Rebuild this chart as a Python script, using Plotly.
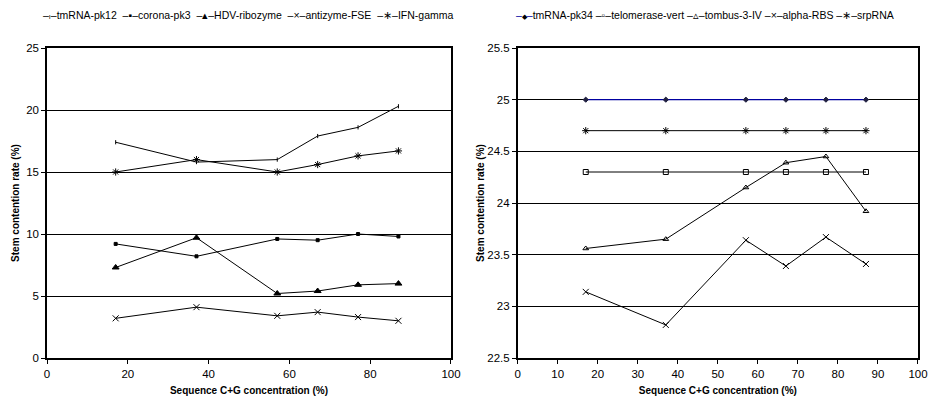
import plotly.graph_objects as go

x_vals = [17, 37, 57, 67, 77, 87]

# Left chart series
left_names = ["tmRNA-pk12", "corona-pk3", "HDV-ribozyme", "antizyme-FSE", "IFN-gamma"]
tmrna_pk12 = [17.4, 15.8, 16.0, 17.9, 18.6, 20.3]
corona_pk3 = [9.2, 8.2, 9.6, 9.5, 10.0, 9.8]
hdv_ribozyme = [7.3, 9.7, 5.2, 5.4, 5.9, 6.0]
antizyme_fse = [3.2, 4.1, 3.4, 3.7, 3.3, 3.0]
ifn_gamma = [15.0, 16.0, 15.0, 15.6, 16.3, 16.7]

# Right chart series
right_names = ["tmRNA-pk34", "telomerase-vert", "tombus-3-IV", "alpha-RBS", "srpRNA"]
tmrna_pk34 = [25.0, 25.0, 25.0, 25.0, 25.0, 25.0]
telomerase_vert = [24.3, 24.3, 24.3, 24.3, 24.3, 24.3]
tombus_3_iv = [23.56, 23.65, 24.15, 24.39, 24.45, 23.92]
alpha_rbs = [23.14, 22.82, 23.64, 23.39, 23.67, 23.41]
srprna = [24.7, 24.7, 24.7, 24.7, 24.7, 24.7]

left_x_ticks = [0, 20, 40, 60, 80, 100]
left_y_ticks = [0, 5, 10, 15, 20, 25]
right_x_ticks = [0, 10, 20, 30, 40, 50, 60, 70, 80, 90, 100]
right_y_ticks = [22.5, 23, 23.5, 24, 24.5, 25, 25.5]
right_y_labels = ["22.5", "23", "23.5", "24", "24.5", "25", "25.5"]

x_title = "Sequence C+G concentration (%)"
y_title = "Stem contention rate (%)"

FONT = "Liberation Sans, Arial, sans-serif"
BLUE = "#0000a0"

fig = go.Figure()

def add(name, y, symbol, size, xa, ya, color="black", mcolor="black", lw=1):
    fig.add_trace(go.Scatter(
        x=x_vals, y=y, name=name, mode="lines+markers", showlegend=False,
        line=dict(color=color, width=lw),
        marker=dict(symbol=symbol, size=size, color=mcolor,
                    line=dict(color=mcolor, width=1)),
        xaxis=xa, yaxis=ya))

add(left_names[0], tmrna_pk12, "line-ns", 3, "x", "y")
add(left_names[1], corona_pk3, "square", 3, "x", "y")
add(left_names[2], hdv_ribozyme, "triangle-up", 6, "x", "y")
add(left_names[3], antizyme_fse, "x-thin-open", 6, "x", "y")
add(left_names[4], ifn_gamma, "asterisk-open", 6, "x", "y")

add(right_names[0], tmrna_pk34, "diamond", 4, "x2", "y2", color=BLUE, mcolor="#202040", lw=1.3)
add(right_names[1], telomerase_vert, "square-open", 5, "x2", "y2")
add(right_names[2], tombus_3_iv, "triangle-up-open", 5, "x2", "y2")
add(right_names[3], alpha_rbs, "x-thin-open", 6, "x2", "y2")
add(right_names[4], srprna, "asterisk-open", 6, "x2", "y2")

# Legend rows (compact Excel-style keys) built as text
def key(mark, line_color="black"):
    return (f"<span style='color:{line_color}'>–</span>{mark}"
            f"<span style='color:{line_color}'>–</span>")

left_keys = [key("<span style='font-size:7px'>ı</span>"), key("▪"), key("▴"),
             key("×"), key("∗")]
right_keys = [key("<span style='font-size:7px'>◆</span>", BLUE), key("▫"), key("▵"),
              key("×"), key("∗")]

left_legend = "  ".join(f"{k}{n}" for k, n in zip(left_keys, left_names))
right_legend = " ".join(f"{k}{n}" for k, n in zip(right_keys, right_names))

legend_font = dict(family=FONT, size=10.5, color="black")
fig.add_annotation(text=left_legend, xref="paper", yref="paper", x=0.2305, y=1.106,
                   xanchor="center", yanchor="middle", showarrow=False, font=legend_font)
fig.add_annotation(text=right_legend, xref="paper", yref="paper", x=0.755, y=1.106,
                   xanchor="center", yanchor="middle", showarrow=False, font=legend_font)

axis_common = dict(showline=True, linecolor="black", linewidth=1.5, mirror=True,
                   ticks="outside", ticklen=4, tickcolor="black",
                   tickfont=dict(family=FONT, size=11.5, color="black"),
                   zeroline=False, automargin=False)

title_font = dict(family=FONT, size=10, color="black")

fig.update_layout(
    width=928, height=411,
    margin=dict(l=47, r=10, t=48, b=53),
    paper_bgcolor="white", plot_bgcolor="white",
    font=dict(family=FONT, color="black"),
    showlegend=False,
    xaxis=dict(domain=[0.0, 0.4638], range=[0, 100], tickvals=left_x_ticks,
               showgrid=False, anchor="y",
               title=dict(text=f"<b>{x_title}</b>", font=title_font, standoff=8),
               **axis_common),
    yaxis=dict(domain=[0.0, 1.0], range=[0, 25], tickvals=left_y_ticks,
               showgrid=True, gridcolor="black", gridwidth=1, anchor="x",
               title=dict(text=f"<b>{y_title}</b>", font=title_font, standoff=5),
               **axis_common),
    xaxis2=dict(domain=[0.5404, 1.0], range=[0, 100], tickvals=right_x_ticks,
                showgrid=False, anchor="y2",
                title=dict(text=f"<b>{x_title}</b>", font=title_font, standoff=8),
                **axis_common),
    yaxis2=dict(domain=[0.0, 1.0], range=[22.5, 25.5], tickvals=right_y_ticks,
                ticktext=right_y_labels,
                showgrid=True, gridcolor="black", gridwidth=1, anchor="x2",
                title=dict(text=f"<b>{y_title}</b>", font=title_font, standoff=1),
                **axis_common),
)

fig.write_html("out.html", config={"displayModeBar": False},
               post_script="document.body.style.margin='0px';document.body.style.overflow='hidden';")
